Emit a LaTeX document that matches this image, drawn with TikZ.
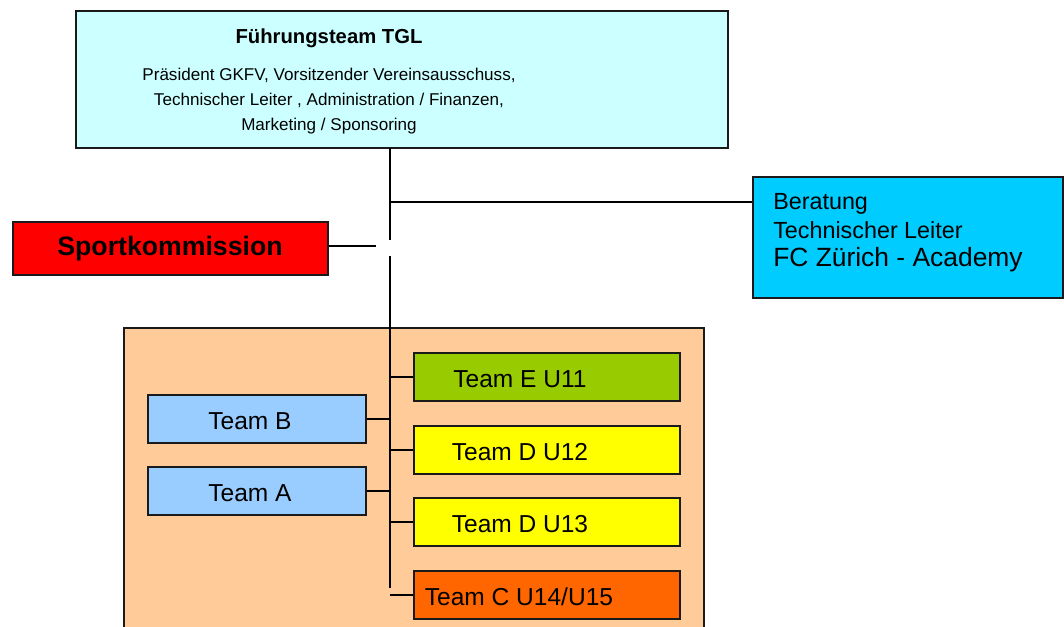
\documentclass[tikz,border=0pt]{standalone}
\usepackage{fontspec}
\setmainfont{Liberation Sans}
\definecolor{topc}{HTML}{CCFFFF}
\definecolor{berc}{HTML}{00CCFF}
\definecolor{sportc}{HTML}{FF0000}
\definecolor{peach}{HTML}{FFCC99}
\definecolor{greenc}{HTML}{99CC00}
\definecolor{yellc}{HTML}{FFFF00}
\definecolor{orangec}{HTML}{FF6600}
\definecolor{bluec}{HTML}{99CCFF}
\definecolor{edge}{HTML}{1A1A1A}
\tikzset{
  box/.style={draw=edge, line width=1.3pt, inner sep=0pt},
  conn/.style={draw=black, line width=1.1pt},
  txt/.style={inner sep=0pt, text=black},
  teamtxt/.style={txt, font=\fontsize{18.4pt}{21pt}\selectfont},
}
\begin{document}
\begin{tikzpicture}[x=0.75pt,y=-0.75pt]
\useasboundingbox (0,0) rectangle (1064,627);
% background group
\fill[peach] (124,328) rectangle (704,627);
\draw[edge, line width=1.3pt] (124,627) -- (124,328) -- (704,328) -- (704,627);

% top box
\node[box, fill=topc, minimum width=652*0.75pt, minimum height=137*0.75pt] (top) at (402,79.5) {};
\node[txt, font=\bfseries\fontsize{15.2pt}{18pt}\selectfont] (toptitle) at (329,38.5) {Führungsteam TGL};
\node[txt, align=center, font=\fontsize{12.8pt}{18.75pt}\selectfont] (topbody) at (329,101) {Präsident GKFV, Vorsitzender Vereinsausschuss,\\Technischer Leiter , Administration / Finanzen,\\Marketing / Sponsoring};

% Beratung
\node[box, fill=berc, minimum width=310*0.75pt, minimum height=121*0.75pt] (ber) at (908,237.5) {};
\node[txt, anchor=west, font=\fontsize{17.5pt}{20pt}\selectfont] (ber1) at (773,204) {Beratung};
\node[txt, anchor=west, font=\fontsize{17.5pt}{20pt}\selectfont] (ber2) at (773,230) {Technischer Leiter};
\node[txt, anchor=west, font=\fontsize{19.8pt}{22pt}\selectfont] (ber3) at (773,259.5) {FC Zürich - Academy};

% Sportkommission
\node[box, fill=sportc, minimum width=315*0.75pt, minimum height=53*0.75pt] (sport) at (170.5,248.5) {};
\node[txt, font=\bfseries\fontsize{20pt}{22pt}\selectfont] (sporttxt) at (170,248.5) {Sportkommission};

% right team boxes
\node[box, fill=greenc, minimum width=266*0.75pt, minimum height=48*0.75pt] (teamE) at (547,377) {};
\node[box, fill=yellc, minimum width=266*0.75pt, minimum height=48*0.75pt] (teamD12) at (547,450) {};
\node[box, fill=yellc, minimum width=266*0.75pt, minimum height=48*0.75pt] (teamD13) at (547,522) {};
\node[box, fill=orangec, minimum width=266*0.75pt, minimum height=48*0.75pt] (teamC) at (547,595) {};
\node[teamtxt] (teamEt) at (520,379) {Team E U11};
\node[teamtxt] (teamD12t) at (520,452) {Team D U12};
\node[teamtxt] (teamD13t) at (520,524) {Team D U13};
\node[teamtxt] (teamCt) at (519,597) {Team C U14/U15};

% left team boxes
\node[box, fill=bluec, minimum width=218*0.75pt, minimum height=48*0.75pt] (teamB) at (257,419) {};
\node[box, fill=bluec, minimum width=218*0.75pt, minimum height=48*0.75pt] (teamA) at (257,491) {};
\node[teamtxt] (teamBt) at (250,421) {Team B};
\node[teamtxt] (teamAt) at (250,493) {Team A};

% trunk coordinates
\coordinate (t0) at (390,148);
\coordinate (t1) at (390,240);
\coordinate (t2) at (390,256);
\coordinate (t3) at (390,588);
\coordinate (tber) at (390,202);
\coordinate (sportend) at (376,246);
\coordinate (tE) at (390,377);
\coordinate (tD12) at (390,450);
\coordinate (tD13) at (390,522);
\coordinate (tC) at (390,595);
\coordinate (tB) at (390,419);
\coordinate (tA) at (390,491);

\draw[conn] (t0) -- (t1);
\draw[conn] (t2) -- (t3);
\draw[conn] (tber) -- (ber.west |- tber);
\draw[conn] (sport.east |- sportend) -- (sportend);
\draw[conn] (tE) -- (teamE.west);
\draw[conn] (tD12) -- (teamD12.west);
\draw[conn] (tD13) -- (teamD13.west);
\draw[conn] (tC) -- (teamC.west);
\draw[conn] (teamB.east) -- (tB);
\draw[conn] (teamA.east) -- (tA);
\end{tikzpicture}
\end{document}
